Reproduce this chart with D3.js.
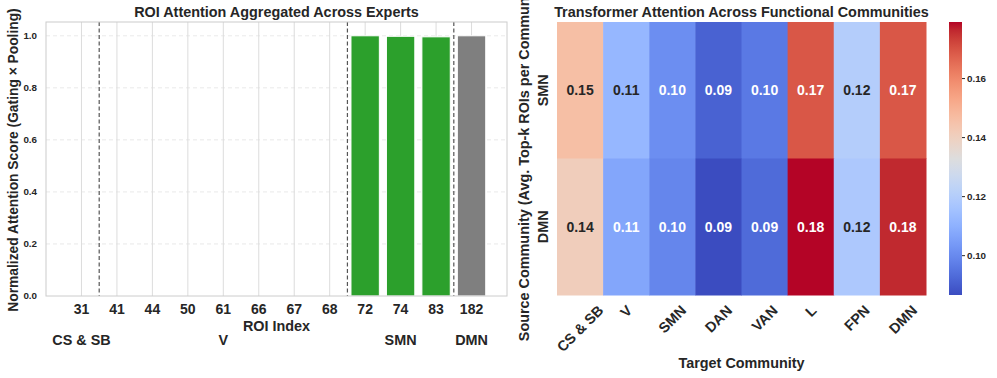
<!DOCTYPE html>
<html>
<head>
<meta charset="utf-8">
<script src="https://cdn.jsdelivr.net/npm/d3@7"></script>
<style>
  body { margin: 0; background: #fff; }
  svg text { font-family: "Liberation Sans", Arial, sans-serif; font-weight: bold; fill: #262626; }
</style>
</head>
<body>
<svg id="chart" width="997" height="378"></svg>
<script>
// ---- data: left bar chart ----
var roiLabels = ['31', '41', '44', '50', '61', '66', '67', '68', '72', '74', '83', '182'];
var roiScores = [0, 0, 0, 0, 0, 0, 0, 0, 1.0, 0.998, 0.996, 1.0];
var roiCommunity = ['CS & SB', 'V', 'V', 'V', 'V', 'V', 'V', 'V', 'SMN', 'SMN', 'SMN', 'DMN'];
var yTicks = [0, 0.2, 0.4, 0.6, 0.8, 1.0];

// ---- data: right heatmap ----
var sourceComms = ['SMN', 'DMN'];
var targetComms = ['CS & SB', 'V', 'SMN', 'DAN', 'VAN', 'L', 'FPN', 'DMN'];
var smnRow = [0.146, 0.112, 0.101, 0.091, 0.096, 0.169, 0.120, 0.169];
var dmnRow = [0.141, 0.107, 0.099, 0.0865, 0.093, 0.179, 0.118, 0.176];
var cbTicks = [0.10, 0.12, 0.14, 0.16];

// matplotlib coolwarm (Moreland) control points
var coolwarm = [[59,76,192],[68,90,204],[77,104,215],[87,117,225],[98,130,234],[108,142,241],
  [119,154,247],[130,165,251],[141,176,254],[152,185,255],[163,194,255],[174,201,253],
  [184,208,249],[194,213,244],[204,217,238],[213,219,230],[221,221,221],[229,216,209],
  [236,211,197],[241,204,185],[245,196,173],[247,187,160],[247,177,148],[247,166,135],
  [244,154,123],[241,141,111],[236,127,99],[229,112,88],[222,96,77],[213,80,66],
  [203,62,56],[192,40,47],[180,4,38]];
var cwInterp = d3.piecewise(d3.interpolateRgb, coolwarm.map(function (c) { return d3.rgb(c[0], c[1], c[2]); }));

var svg = d3.select('#chart');
var labelSize = '14.4px';

// ================= left: bar chart =================
var left = { x0: 46, x1: 507, y0: 22, y1: 296 };

var xScale = d3.scaleLinear().domain([-1, roiLabels.length]).range([left.x0, left.x1]);
var step = xScale(1) - xScale(0);
var yScale = d3.scaleLinear().domain([0, 1.053]).range([left.y1, left.y0]);

var g1 = svg.append('g');

// grid
g1.selectAll('.hgrid').data(yTicks.slice(1)).enter().append('line')
  .attr('x1', left.x0).attr('x2', left.x1)
  .attr('y1', function (d) { return yScale(d); }).attr('y2', function (d) { return yScale(d); })
  .attr('stroke', '#e3e3e3').attr('stroke-dasharray', '4,3').attr('stroke-width', 0.8);

g1.selectAll('.vgrid').data(roiLabels).enter().append('line')
  .attr('x1', function (d, i) { return xScale(i); }).attr('x2', function (d, i) { return xScale(i); })
  .attr('y1', left.y0).attr('y2', left.y1)
  .attr('stroke', '#dcdcdc').attr('stroke-width', 1);

// bars
var colorFor = { 'SMN': '#2ca02c', 'DMN': '#7f7f7f', 'V': '#1f77b4', 'CS & SB': '#d62728' };
roiScores.forEach(function (v, i) {
  if (v <= 0) return;
  g1.append('rect')
    .attr('x', xScale(i) - step * 0.4)
    .attr('width', step * 0.8)
    .attr('y', yScale(v))
    .attr('height', yScale(0) - yScale(v))
    .attr('fill', colorFor[roiCommunity[i]])
    .attr('stroke', '#fff').attr('stroke-width', 1);
});

// community separators
var bounds = [];
for (var i = 1; i < roiCommunity.length; i++) {
  if (roiCommunity[i] !== roiCommunity[i - 1]) bounds.push(i - 0.5);
}
g1.selectAll('.sep').data(bounds).enter().append('line')
  .attr('x1', function (d) { return xScale(d); }).attr('x2', function (d) { return xScale(d); })
  .attr('y1', left.y0).attr('y2', left.y1)
  .attr('stroke', '#555').attr('stroke-width', 1.2).attr('stroke-dasharray', '4,2.5');

// frame
g1.append('rect')
  .attr('x', left.x0).attr('y', left.y0)
  .attr('width', left.x1 - left.x0).attr('height', left.y1 - left.y0)
  .attr('fill', 'none').attr('stroke', '#cccccc').attr('stroke-width', 1);

// y tick labels
g1.selectAll('.ytl').data(yTicks).enter().append('text')
  .attr('x', 37).attr('y', function (d) { return yScale(d); })
  .attr('dy', '0.35em').attr('text-anchor', 'end')
  .style('font-size', '9.8px')
  .text(function (d) { return d.toFixed(1); });

// x tick labels
g1.selectAll('.xtl').data(roiLabels).enter().append('text')
  .attr('x', function (d, i) { return xScale(i); }).attr('y', 314)
  .attr('text-anchor', 'middle').style('font-size', '14px')
  .text(function (d) { return d; });

// community labels (centered on each group)
var groups = [];
roiCommunity.forEach(function (c, i) {
  var last = groups[groups.length - 1];
  if (last && last.name === c) last.end = i; else groups.push({ name: c, start: i, end: i });
});
g1.selectAll('.comm').data(groups).enter().append('text')
  .attr('x', function (d) { return xScale((d.start + d.end) / 2); }).attr('y', 345)
  .attr('text-anchor', 'middle').style('font-size', labelSize)
  .text(function (d) { return d.name; });

g1.append('text').attr('x', (left.x0 + left.x1) / 2).attr('y', 331)
  .attr('text-anchor', 'middle').style('font-size', labelSize).text('ROI Index');

g1.append('text')
  .attr('transform', 'translate(18,' + ((left.y0 + left.y1) / 2 + 1) + ') rotate(-90)')
  .attr('text-anchor', 'middle').style('font-size', '13.8px')
  .text('Normalized Attention Score (Gating \u00d7 Pooling)');

g1.append('text').attr('x', (left.x0 + left.x1) / 2).attr('y', 17)
  .attr('text-anchor', 'middle').style('font-size', '14.4px')
  .text('ROI Attention Aggregated Across Experts');

// ================= right: heatmap =================
var hm = { x0: 557, x1: 926, y0: 22, y1: 295 };
var matrix = [smnRow, dmnRow];
var allVals = smnRow.concat(dmnRow);
var vmin = d3.min(allVals), vmax = d3.max(allVals);
var cScale = d3.scaleSequential(cwInterp).domain([vmin, vmax]);

var xb = d3.scaleBand().domain(targetComms).range([hm.x0, hm.x1]);
var yb = d3.scaleBand().domain(sourceComms).range([hm.y0, hm.y1]);

var g2 = svg.append('g');
var cells = [];
matrix.forEach(function (row, r) {
  row.forEach(function (v, c) { cells.push({ r: sourceComms[r], c: targetComms[c], v: v }); });
});

g2.selectAll('.cell').data(cells).enter().append('rect')
  .attr('x', function (d) { return xb(d.c); }).attr('y', function (d) { return yb(d.r); })
  .attr('width', xb.bandwidth() + 0.5).attr('height', yb.bandwidth() + 0.5)
  .attr('fill', function (d) { return cScale(d.v); });

function lum(col) {
  var c = d3.rgb(col);
  var f = function (u) { u /= 255; return u <= 0.03928 ? u / 12.92 : Math.pow((u + 0.055) / 1.055, 2.4); };
  return 0.2126 * f(c.r) + 0.7152 * f(c.g) + 0.0722 * f(c.b);
}

g2.selectAll('.ann').data(cells).enter().append('text')
  .attr('x', function (d) { return xb(d.c) + xb.bandwidth() / 2; })
  .attr('y', function (d) { return yb(d.r) + yb.bandwidth() / 2; })
  .attr('dy', '0.35em').attr('text-anchor', 'middle').style('font-size', '14px')
  .style('fill', function (d) { return lum(cScale(d.v)) > 0.408 ? '#262626' : '#ffffff'; })
  .text(function (d) { return d.v.toFixed(2); });

// column labels, rotated 45, bbox centered on tick
g2.selectAll('.ctl').data(targetComms).enter().append('text')
  .attr('text-anchor', 'middle').attr('dy', '0.35em').style('font-size', labelSize)
  .text(function (d) { return d; })
  .each(function (d) {
    var L = this.getComputedTextLength();
    var half = (L + 11) / (2 * Math.SQRT2);
    var cx = xb(d) + xb.bandwidth() / 2;
    d3.select(this).attr('transform', 'translate(' + cx + ',' + (304 + half) + ') rotate(-45)');
  });

// row labels
g2.selectAll('.rtl').data(sourceComms).enter().append('text')
  .attr('transform', function (d) { return 'translate(543,' + (yb(d) + yb.bandwidth() / 2) + ') rotate(-90)'; })
  .attr('dy', '0.35em').attr('text-anchor', 'middle').style('font-size', labelSize)
  .text(function (d) { return d; });

g2.append('text')
  .attr('transform', 'translate(529,' + ((hm.y0 + hm.y1) / 2) + ') rotate(-90)')
  .attr('text-anchor', 'middle').style('font-size', labelSize)
  .text('Source Community (Avg. Top-k ROIs per Community)');

g2.append('text').attr('x', (hm.x0 + hm.x1) / 2).attr('y', 368)
  .attr('text-anchor', 'middle').style('font-size', labelSize).text('Target Community');

g2.append('text').attr('x', (hm.x0 + hm.x1) / 2).attr('y', 17)
  .attr('text-anchor', 'middle').style('font-size', '14.4px')
  .text('Transformer Attention Across Functional Communities');

// colorbar
var cb = { x0: 949, x1: 962, y0: 22, y1: 295 };
var defs = svg.append('defs');
var grad = defs.append('linearGradient').attr('id', 'cwgrad')
  .attr('x1', 0).attr('y1', 1).attr('x2', 0).attr('y2', 0);
d3.range(0, 1.0001, 1 / 32).forEach(function (t) {
  grad.append('stop').attr('offset', t).attr('stop-color', cwInterp(t));
});
svg.append('rect').attr('x', cb.x0).attr('y', cb.y0)
  .attr('width', cb.x1 - cb.x0).attr('height', cb.y1 - cb.y0)
  .attr('fill', 'url(#cwgrad)');

var cbScale = d3.scaleLinear().domain([vmin, vmax]).range([cb.y1, cb.y0]);
var cbAxis = svg.append('g').attr('transform', 'translate(' + cb.x1 + ',0)')
  .call(d3.axisRight(cbScale).tickValues(cbTicks).tickSize(3).tickPadding(2).tickFormat(d3.format('.2f')));
cbAxis.select('.domain').remove();
cbAxis.selectAll('line').attr('stroke', '#262626');
cbAxis.selectAll('text').style('font-size', '9.8px').style('font-family', '"Liberation Sans", Arial, sans-serif').attr('fill', '#262626');
</script>
</body>
</html>
